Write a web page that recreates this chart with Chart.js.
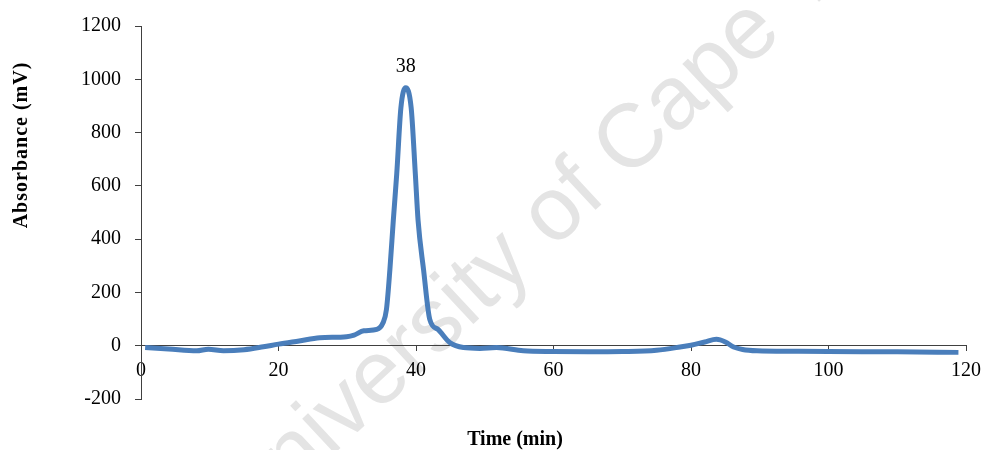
<!DOCTYPE html>
<html>
<head>
<meta charset="utf-8">
<script src="https://cdn.jsdelivr.net/npm/chart.js@4"></script>
<style>
  html, body { margin: 0; padding: 0; background: #fff; }
  canvas { display: block; }
</style>
</head>
<body>
<canvas id="chart" width="984" height="450"></canvas>
<script>
// Chromatogram trace
const timeMin = [0.6, 4, 8.1, 9.8, 12, 15, 17.8, 20, 23, 26, 29.9, 31, 32.4, 34.3, 35.2, 35.7, 36.2, 36.7, 37.2, 37.8,
  38.5, 39.3, 39.9, 40.3, 41.1, 42.0, 43.2, 44.9, 46.9, 49.3, 51.7, 55.6, 60, 65, 70, 75, 78.4, 80, 82, 83.7,
  85, 86.2, 87.5, 89.6, 95, 100, 110, 118.9];
const absorbance = [-7, -12, -19, -13, -19, -15, -4, 6, 18, 30, 34, 40, 56, 61, 86, 136, 285, 471, 646, 892,
  968, 892, 646, 471, 285, 99, 61, 12, -7, -10, -7, -19, -22, -23, -22, -17, -5, 2, 14, 24,
  14, -5, -14, -19, -21, -22, -23, -25];

const xTicks = [0, 20, 40, 60, 80, 100, 120];
const yTicks = [-200, 0, 200, 400, 600, 800, 1000, 1200];
const peakLabel = "38";

const SERIF = "'Liberation Serif', 'Times New Roman', serif";

/* ---- extra text: titles, peak label, watermark ---- */
const extras = {
  id: "extras",
  beforeDraw(chart) {
    const c = chart.ctx;
    c.save();
    c.fillStyle = "#fff";
    c.fillRect(0, 0, chart.width, chart.height);
    // faint watermark
    c.translate(246, 536);
    c.rotate(-43 * Math.PI / 180);
    c.font = "90px 'Liberation Sans', Arial, sans-serif";
    c.fillStyle = "#e4e4e4";
    c.textAlign = "left";
    c.textBaseline = "alphabetic";
    c.fillText("University of Cape Town", 0, 0);
    c.restore();
  },
  afterDraw(chart) {
    const c = chart.ctx;
    const xs = chart.scales.x, ys = chart.scales.y;
    c.save();
    c.fillStyle = "#000";
    c.textAlign = "center";
    c.textBaseline = "middle";
    c.font = "bold 20px " + SERIF;
    c.fillText("Time (min)", 515, 440);
    c.save();
    c.translate(22, 145);
    c.rotate(-Math.PI / 2);
    c.letterSpacing = "1px";
    c.fillText("Absorbance (mV)", 0, 0);
    c.restore();

    // label over the main peak
    let iMax = 0;
    absorbance.forEach((v, i) => { if (v > absorbance[iMax]) iMax = i; });
    c.font = "20px " + SERIF;
    c.textBaseline = "alphabetic";
    c.fillText(peakLabel, xs.getPixelForValue(timeMin[iMax]), ys.getPixelForValue(absorbance[iMax]) - 16);
    c.restore();
  }
};

const axisColor = "#404040";

new Chart(document.getElementById("chart"), {
  type: "line",
  data: {
    datasets: [{
      data: timeMin.map((t, i) => ({ x: t, y: absorbance[i] })),
      borderColor: "#4a7ebb",
      borderWidth: 5,
      pointRadius: 0,
      fill: false,
      cubicInterpolationMode: "monotone"
    }]
  },
  options: {
    responsive: false,
    animation: false,
    layout: { padding: { left: 0, right: 18, top: 24, bottom: 51 } },
    plugins: { legend: { display: false }, tooltip: { enabled: false } },
    scales: {
      x: {
        type: "linear",
        min: xTicks[0],
        max: xTicks[xTicks.length - 1],
        position: { y: 0 },
        afterBuildTicks: s => { s.ticks = xTicks.map(v => ({ value: v })); },
        afterFit: s => { s.paddingLeft = 0; s.paddingRight = 0; },
        ticks: { color: "#000", font: { family: SERIF, size: 20 }, padding: 8, maxRotation: 0 },
        grid: { drawOnChartArea: false, tickLength: 5, color: axisColor },
        border: { color: axisColor }
      },
      y: {
        min: yTicks[0],
        max: yTicks[yTicks.length - 1],
        afterBuildTicks: s => { s.ticks = yTicks.map(v => ({ value: v })); },
        afterFit: s => { s.width = 141; },
        ticks: { color: "#000", font: { family: SERIF, size: 20 }, padding: 14, callback: v => String(v) },
        grid: { drawOnChartArea: false, tickLength: 6, color: axisColor },
        border: { color: axisColor }
      }
    }
  },
  plugins: [extras]
});
</script>
</body>
</html>
